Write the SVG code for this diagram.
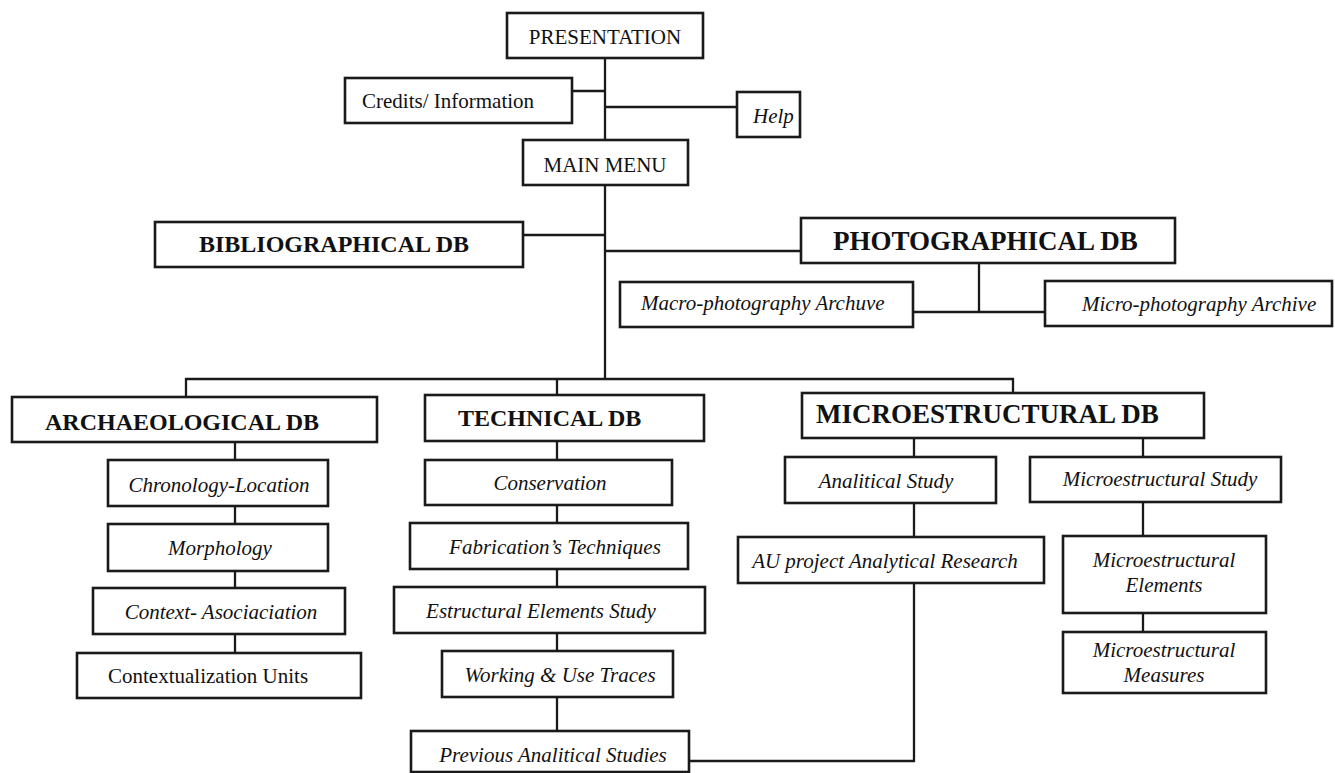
<svg xmlns="http://www.w3.org/2000/svg" width="1335" height="773" viewBox="0 0 1335 773">
<style>
  .box { fill: #ffffff; stroke: #1a1a1a; stroke-width: 2.6; }
  .conn { fill: none; stroke: #1a1a1a; stroke-width: 2.3; }
  text { font-family: "Liberation Serif", "Times New Roman", serif; fill: #111; }
  .r { font-size: 21px; }
  .i { font-size: 21px; font-style: italic; }
  .b { font-size: 24px; font-weight: bold; }
  .bl { font-size: 27px; font-weight: bold; }
  .c { text-anchor: middle; }
</style>
<rect x="0" y="0" width="1335" height="773" fill="#ffffff"/>
<g id="connectors">
  <path class="conn" d="M605,58 V140"/>
  <path class="conn" d="M572,91 H605"/>
  <path class="conn" d="M605,107 H737"/>
  <path class="conn" d="M605,185 V379"/>
  <path class="conn" d="M523,235 H605"/>
  <path class="conn" d="M605,251 H801"/>
  <path class="conn" d="M979,263 V312"/>
  <path class="conn" d="M913,312 H1045"/>
  <path class="conn" d="M186,397 V379 H1013 V393"/>
  <path class="conn" d="M557,379 V395"/>
  <path class="conn" d="M235,442 V460 M235,506 V524 M235,571 V588 M235,634 V653"/>
  <path class="conn" d="M557,441 V460 M557,505 V523 M557,569 V587 M557,633 V651 M557,697 V731"/>
  <path class="conn" d="M914,438 V457 M914,503 V537"/>
  <path class="conn" d="M914,583 V761 H689"/>
  <path class="conn" d="M1143,438 V457 M1143,502 V536 M1143,613 V632"/>
</g>
<g id="presentation"><rect class="box" x="507" y="13" width="196" height="45"/><text class="r c" x="605" y="44">PRESENTATION</text></g>
<g id="credits"><rect class="box" x="345" y="78" width="227" height="45"/><text class="r" x="362" y="108">Credits/ Information</text></g>
<g id="help"><rect class="box" x="737" y="92" width="63" height="45"/><text class="i" x="753" y="123">Help</text></g>
<g id="main-menu"><rect class="box" x="523" y="140" width="165" height="45"/><text class="r c" x="605" y="172">MAIN MENU</text></g>
<g id="bibliographical-db"><rect class="box" x="155" y="222" width="368" height="45"/><text class="b" x="199" y="252">BIBLIOGRAPHICAL DB</text></g>
<g id="photographical-db"><rect class="box" x="801" y="218" width="374" height="45"/><text class="bl" x="833" y="250">PHOTOGRAPHICAL DB</text></g>
<g id="macro-archive"><rect class="box" x="620" y="282" width="293" height="45"/><text class="i" x="641" y="310">Macro-photography Archuve</text></g>
<g id="micro-archive"><rect class="box" x="1045" y="281" width="287" height="45"/><text class="i" x="1082" y="311">Micro-photography Archive</text></g>
<g id="archaeological-db"><rect class="box" x="12" y="397" width="365" height="45"/><text class="b" x="45" y="430">ARCHAEOLOGICAL DB</text></g>
<g id="chronology"><rect class="box" x="108" y="460" width="220" height="46"/><text class="i c" x="219" y="492">Chronology-Location</text></g>
<g id="morphology"><rect class="box" x="108" y="524" width="220" height="47"/><text class="i c" x="220" y="555">Morphology</text></g>
<g id="context"><rect class="box" x="93" y="588" width="252" height="46"/><text class="i c" x="221" y="619">Context- Asociaciation</text></g>
<g id="contextualization"><rect class="box" x="77" y="653" width="284" height="45"/><text class="r" x="108" y="683">Contextualization Units</text></g>
<g id="technical-db"><rect class="box" x="425" y="395" width="279" height="46"/><text class="b" x="458" y="426">TECHNICAL DB</text></g>
<g id="conservation"><rect class="box" x="425" y="460" width="247" height="45"/><text class="i c" x="550" y="490">Conservation</text></g>
<g id="fabrication"><rect class="box" x="410" y="523" width="278" height="46"/><text class="i c" x="555" y="554">Fabrication’s Techniques</text></g>
<g id="estructural"><rect class="box" x="394" y="587" width="311" height="46"/><text class="i c" x="541" y="618">Estructural Elements Study</text></g>
<g id="working"><rect class="box" x="442" y="651" width="231" height="46"/><text class="i c" x="560" y="682">Working &amp; Use Traces</text></g>
<g id="previous"><rect class="box" x="411" y="731" width="278" height="41"/><text class="i c" x="553" y="762">Previous Analitical Studies</text></g>
<g id="microestructural-db"><rect class="box" x="802" y="393" width="402" height="45"/><text class="bl" x="816" y="423">MICROESTRUCTURAL DB</text></g>
<g id="analitical-study"><rect class="box" x="785" y="457" width="211" height="46"/><text class="i c" x="886" y="488">Analitical Study</text></g>
<g id="microestructural-study"><rect class="box" x="1030" y="457" width="251" height="45"/><text class="i c" x="1160" y="486">Microestructural Study</text></g>
<g id="au-project"><rect class="box" x="738" y="537" width="306" height="46"/><text class="i c" x="885" y="568">AU project Analytical Research</text></g>
<g id="micro-elements"><rect class="box" x="1063" y="536" width="203" height="77"/><text class="i c" x="1164" y="567">Microestructural</text><text class="i c" x="1164" y="592">Elements</text></g>
<g id="micro-measures"><rect class="box" x="1063" y="632" width="203" height="61"/><text class="i c" x="1164" y="657">Microestructural</text><text class="i c" x="1164" y="682">Measures</text></g>
</svg>
